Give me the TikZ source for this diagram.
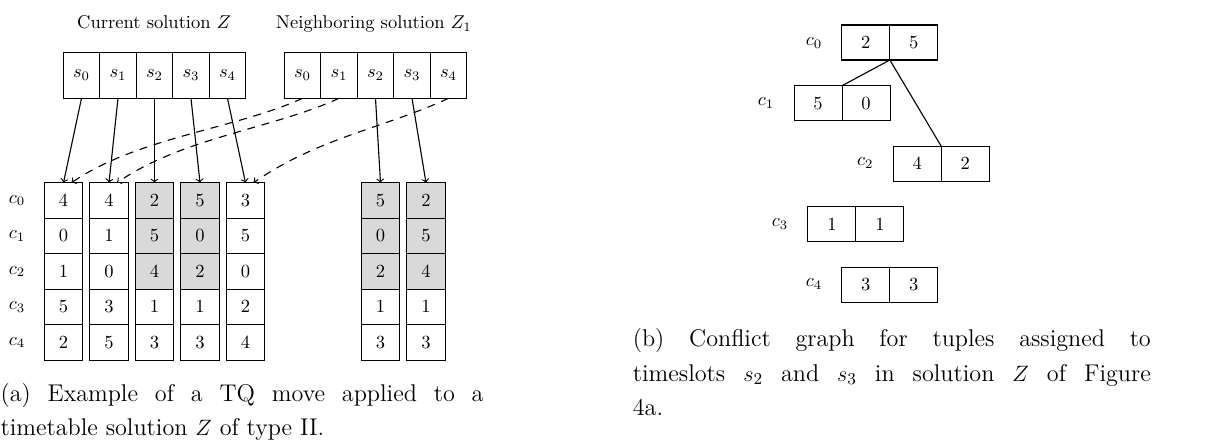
\documentclass[tikz,border=0pt]{standalone}
\usetikzlibrary{arrows}
\begin{document}
\begin{tikzpicture}[x=0.54pt,y=-0.54pt,line width=0.6pt,
  font=\fontsize{10pt}{12pt}\selectfont,
  scell/.style={draw,inner sep=0pt,outer sep=0pt,minimum width=36.5*0.54pt,minimum height=46*0.54pt},
  tcell/.style={draw,inner sep=0pt,outer sep=0pt,minimum width=38.5*0.54pt,minimum height=35.5*0.54pt},
  gcell/.style={draw,inner sep=0pt,outer sep=0pt,minimum width=48*0.54pt,minimum height=35*0.54pt},
  shade/.style={fill=black!15},
  lbl/.style={inner sep=0pt},
  arr/.style={->},
  darr/.style={->,dash pattern=on 4.3pt off 3.7pt},
  capt/.style={inner sep=0pt,anchor=north west,align=justify,font=\fontsize{13.06pt}{18.6pt}\selectfont}
]
\useasboundingbox (0,0) rectangle (1219,448);

% titles
\node[lbl,anchor=base] (tz) at (154,28.3) {Current solution $Z$};
\node[lbl,anchor=base] (tn) at (374,28.3) {Neighboring solution $Z_1$};

% timeslot rows
\foreach \i/\x in {0/81.5,1/118,2/154.5,3/191,4/227.5}
  \node[scell] (z\i) at (\x,75.3) {$s_\i$};
\foreach \i/\x in {0/302.5,1/339,2/375.5,3/412,4/448.5}
  \node[scell] (n\i) at (\x,75.3) {$s_\i$};

% row labels
\foreach \r/\y in {0/200.5,1/236,2/271.5,3/307,4/342.5}
  \node[lbl] (c\r) at (17,\y) {$c_\r$};

% columns of current solution
\foreach \c/\x/\vals/\g in {0/63.5/{4,0,1,5,2}/0,1/109/{4,1,0,3,5}/0,2/154.5/{2,5,4,1,3}/1,3/200/{5,0,2,1,3}/1,4/245.5/{3,5,0,2,4}/0}{
  \foreach \v [count=\k from 0] in \vals {
    \pgfmathsetmacro{\yy}{200.5+35.5*\k}
    \ifnum\g=1 \ifnum\k<3
      \node[tcell,shade] (a\c r\k) at (\x,\yy) {$\v$};
    \else
      \node[tcell] (a\c r\k) at (\x,\yy) {$\v$};
    \fi\else
      \node[tcell] (a\c r\k) at (\x,\yy) {$\v$};
    \fi
  }
}
% columns of neighbouring solution
\foreach \c/\x/\vals in {0/380.5/{5,0,2,1,3},1/426/{2,5,4,1,3}}{
  \foreach \v [count=\k from 0] in \vals {
    \pgfmathsetmacro{\yy}{200.5+35.5*\k}
    \ifnum\k<3
      \node[tcell,shade] (b\c r\k) at (\x,\yy) {$\v$};
    \else
      \node[tcell] (b\c r\k) at (\x,\yy) {$\v$};
    \fi
  }
}

% solid arrows
\foreach \i in {0,...,4}
  \draw[arr] (z\i.south) -- (a\i r0.north);
\draw[arr] (n2.south) -- (b0r0.north);
\draw[arr] (n3.south) -- (b1r0.north);

% dashed arrows
\draw[darr] (n0.south) .. controls +(-65,30) and +(65,-45) .. ([xshift=8*0.54pt]a0r0.north);
\draw[darr] (n1.south) .. controls +(-65,30) and +(65,-45) .. ([xshift=8*0.54pt]a1r0.north);
\draw[darr] (n4.south) .. controls +(-65,30) and +(65,-45) .. ([xshift=8*0.54pt]a4r0.north);

% conflict graph
\node[gcell] (g0l) at (865.85,42.5) {$2$};
\node[gcell] (g0r) at (913.85,42.5) {$5$};
\node[gcell] (g1l) at (818.1,103.2) {$5$};
\node[gcell] (g1r) at (866.1,103.2) {$0$};
\node[gcell] (g2l) at (917.2,163.7) {$4$};
\node[gcell] (g2r) at (965.2,163.7) {$2$};
\node[gcell] (g3l) at (831.9,224.2) {$1$};
\node[gcell] (g3r) at (879.9,224.2) {$1$};
\node[gcell] (g4l) at (865.85,284.8) {$3$};
\node[gcell] (g4r) at (913.85,284.8) {$3$};

\node[lbl] (k0) at (814,42.7) {$c_0$};
\node[lbl] (k1) at (766,103) {$c_1$};
\node[lbl] (k2) at (865.3,163.3) {$c_2$};
\node[lbl] (k3) at (780,224) {$c_3$};
\node[lbl] (k4) at (814,284) {$c_4$};

\draw (g0l.south east) -- (g1l.north east);
\draw (g0l.south east) -- (g2l.north east);

% captions
\node[capt,text width=483*0.54pt] (capa) at (0,382.5)
  {(a) Example of a TQ move applied to a\linebreak timetable solution $Z$ of type II.};
\node[capt,text width=518*0.54pt] (capb) at (632.3,328)
  {(b) Conflict graph for tuples assigned to\linebreak timeslots $s_2$ and $s_3$ in solution $Z$ of Figure\linebreak 4a.};
\end{tikzpicture}
\end{document}
